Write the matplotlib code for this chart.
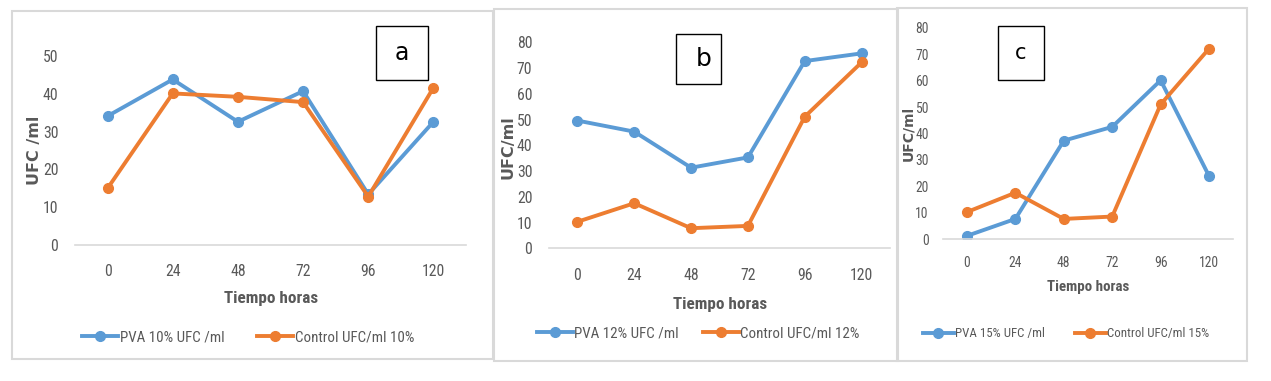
import matplotlib.pyplot as plt
from matplotlib import font_manager
from matplotlib.patches import Rectangle

# pick a narrow face if one is around (Excel used Calibri)
installed = {f.name for f in font_manager.fontManager.ttflist}
narrow = [n for n in ['Liberation Sans Narrow', 'DejaVu Sans Condensed', 'Roboto Condensed',
                      'Open Sans Condensed', 'Carlito'] if n in installed]
plt.rcParams['font.family'] = narrow + ['DejaVu Sans']
stretch = 'condensed' if not narrow else 'normal'

hours = [0, 24, 48, 72, 96, 120]
hour_labels = ['0', '24', '48', '72', '96', '120']

pva_10 = [34.1, 43.8, 32.6, 40.7, 13.4, 32.6]
control_10 = [15.0, 40.1, 39.2, 37.8, 12.8, 41.6]

pva_12 = [49.6, 45.3, 31.3, 35.3, 72.7, 75.7]
control_12 = [10.3, 17.5, 7.8, 8.7, 51.1, 72.2]

pva_15 = [1.3, 7.7, 37.3, 42.5, 60.1, 23.9]
control_15 = [10.3, 17.6, 7.7, 8.6, 51.0, 72.1]

W, H = 1271, 381
BLUE = '#5B9BD5'
ORANGE = '#ED7D31'
GREY = '#595959'

fig = plt.figure(figsize=(W / 100, H / 100), dpi=100)


def fx(px):
    return px / W


def fy(py):
    return 1 - py / H


def frame(x0, y0, x1, y1):
    fig.patches.append(Rectangle((fx(x0), fy(y1)), fx(x1) - fx(x0), fy(y0) - fy(y1),
                                 transform=fig.transFigure, fill=False,
                                 edgecolor='#D9D9D9', lw=1.5))


def panel(box, ymax, pva, control, names, tag, fs):
    left, right, top, bottom = box['axes']
    ax = fig.add_axes([fx(left), fy(bottom), fx(right) - fx(left), fy(top) - fy(bottom)])
    ax.plot(hours, pva, color=BLUE, lw=2.8, marker='o', ms=7, label=names[0])
    ax.plot(hours, control, color=ORANGE, lw=2.8, marker='o', ms=7, label=names[1])
    ax.set_xlim(-12, 132)
    ax.set_ylim(0, ymax)
    ax.set_yticks(range(0, ymax + 1, 10))
    ax.set_xticks(hours)
    ax.set_xticklabels(hour_labels)
    for s in ['top', 'right', 'left']:
        ax.spines[s].set_visible(False)
    ax.spines['bottom'].set_color('#D9D9D9')
    ax.spines['bottom'].set_linewidth(1.2)
    ax.tick_params(length=0, labelsize=fs + 0.8, colors=GREY)
    ax.tick_params(axis='x', pad=box['xpad'])
    ax.tick_params(axis='y', pad=box['ypad'])
    for t in ax.get_xticklabels() + ax.get_yticklabels():
        t.set_fontstretch(stretch)
    ax.patch.set_alpha(0)

    ylx, yly = box['ylabel']
    fig.text(fx(ylx), fy(yly), box['ylabel_text'], rotation=90, ha='center', va='center',
             fontsize=fs + 1, fontweight='bold', color=GREY, family=['DejaVu Sans'])
    xlx, xly = box['xlabel']
    fig.text(fx(xlx), fy(xly), 'Tiempo horas', ha='center', va='center',
             fontsize=fs + 1.8, fontweight='bold', color=GREY, fontstretch=stretch)

    bx0, by0, bx1, by1 = box['tagbox']
    fig.patches.append(Rectangle((fx(bx0), fy(by1)), fx(bx1) - fx(bx0), fy(by0) - fy(by1),
                                 transform=fig.transFigure, fill=True, facecolor='white',
                                 edgecolor='black', lw=1.0, zorder=5))
    fig.text(fx((bx0 + bx1) / 2 + box['tagdx']), fy((by0 + by1) / 2), tag, ha='center', va='center',
             fontsize=box['tagfs'], color='black', family=['DejaVu Sans'], zorder=6)

    lx, ly = box['legend']
    leg = ax.legend(loc='center', bbox_to_anchor=(fx(lx), fy(ly)), bbox_transform=fig.transFigure,
                    ncol=2, frameon=False, fontsize=fs + 0.3, handlelength=2.4, handletextpad=0.1,
                    columnspacing=box['colsp'], labelcolor=GREY)
    for t in leg.get_texts():
        t.set_fontstretch(stretch)
    return ax


frame(12, 11, 493, 359)
frame(494, 9, 898, 361)
frame(897, 8, 1247, 361)

panel(dict(axes=(75, 466, 56, 245), xpad=14, ypad=12, ylabel=(34, 150), ylabel_text='UFC /ml',
           xlabel=(271, 298), tagbox=(376, 26, 428, 80), tagdx=0, tagfs=17,
           legend=(248, 337), colsp=2.2),
      50, pva_10, control_10, ['PVA 10% UFC /ml', 'Control UFC/ml 10%'], 'a', 10.5)

panel(dict(axes=(549, 890, 42.3, 248.3), xpad=14, ypad=12, ylabel=(508, 147), ylabel_text='UFC/ml',
           xlabel=(720, 305), tagbox=(676, 34, 721, 84), tagdx=5, tagfs=18,
           legend=(698, 333), colsp=1.6),
      80, pva_12, control_12, ['PVA 12% UFC /ml', 'Control UFC/ml 12%'], 'b', 10.5)

panel(dict(axes=(942.7, 1233.3, 27.7, 239.3), xpad=12, ypad=10, ylabel=(908, 133), ylabel_text='UFC/ml',
           xlabel=(1088, 287), tagbox=(998, 26, 1044, 80), tagdx=0, tagfs=15,
           legend=(1066, 334), colsp=2.3),
      80, pva_15, control_15, ['PVA 15% UFC /ml', 'Control UFC/ml 15%'], 'c', 9)

fig.savefig('out.png', dpi=100)
